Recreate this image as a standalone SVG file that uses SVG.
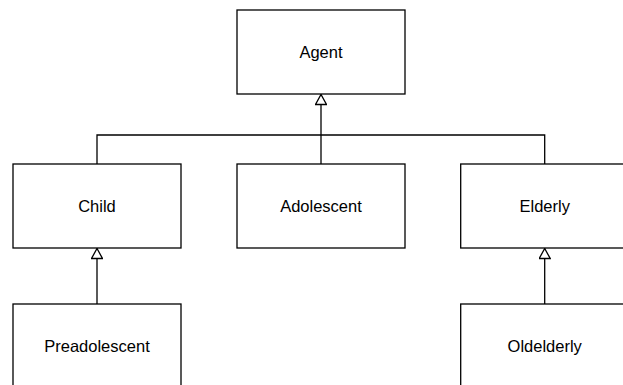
<svg xmlns="http://www.w3.org/2000/svg" width="623" height="385" viewBox="0 0 623 385">
<style>
.box{fill:#fff;stroke:#000;stroke-width:1.3}
.lbl{font-family:"Liberation Sans",Arial,sans-serif;font-size:16.5px;fill:#000;text-anchor:middle}
.edge{fill:none;stroke:#000;stroke-width:1.3}
</style>
<defs>
<marker id="tri" viewBox="0 0 12 12" markerWidth="12" markerHeight="12" markerUnits="userSpaceOnUse" refX="11" refY="6" orient="auto">
<path d="M1,0.5 L11,6 L1,11.5 Z" fill="#fff" stroke="#000" stroke-width="1.3"/>
</marker>
</defs>
<rect width="623" height="385" fill="#fff"/>
<g id="connectors">
<path class="edge" d="M97,164 V135 H544.7 V164"/>
<path class="edge" d="M321,164 V94.5" marker-end="url(#tri)"/>
<path class="edge" d="M97,304 V248.5" marker-end="url(#tri)"/>
<path class="edge" d="M544.7,304 V248.5" marker-end="url(#tri)"/>
</g>
<g id="agent"><rect class="box" x="237" y="10" width="168" height="84"/><text class="lbl" x="321" y="58">Agent</text></g>
<g id="child"><rect class="box" x="13" y="164" width="168" height="84"/><text class="lbl" x="97" y="212">Child</text></g>
<g id="adolescent"><rect class="box" x="237" y="164" width="168" height="84"/><text class="lbl" x="321" y="212">Adolescent</text></g>
<g id="elderly"><rect class="box" x="460.7" y="164" width="168" height="84"/><text class="lbl" x="544.7" y="212">Elderly</text></g>
<g id="preadolescent"><rect class="box" x="13" y="304" width="168" height="84"/><text class="lbl" x="97" y="352">Preadolescent</text></g>
<g id="oldelderly"><rect class="box" x="460.7" y="304" width="168" height="84"/><text class="lbl" x="544.7" y="352">Oldelderly</text></g>
</svg>
